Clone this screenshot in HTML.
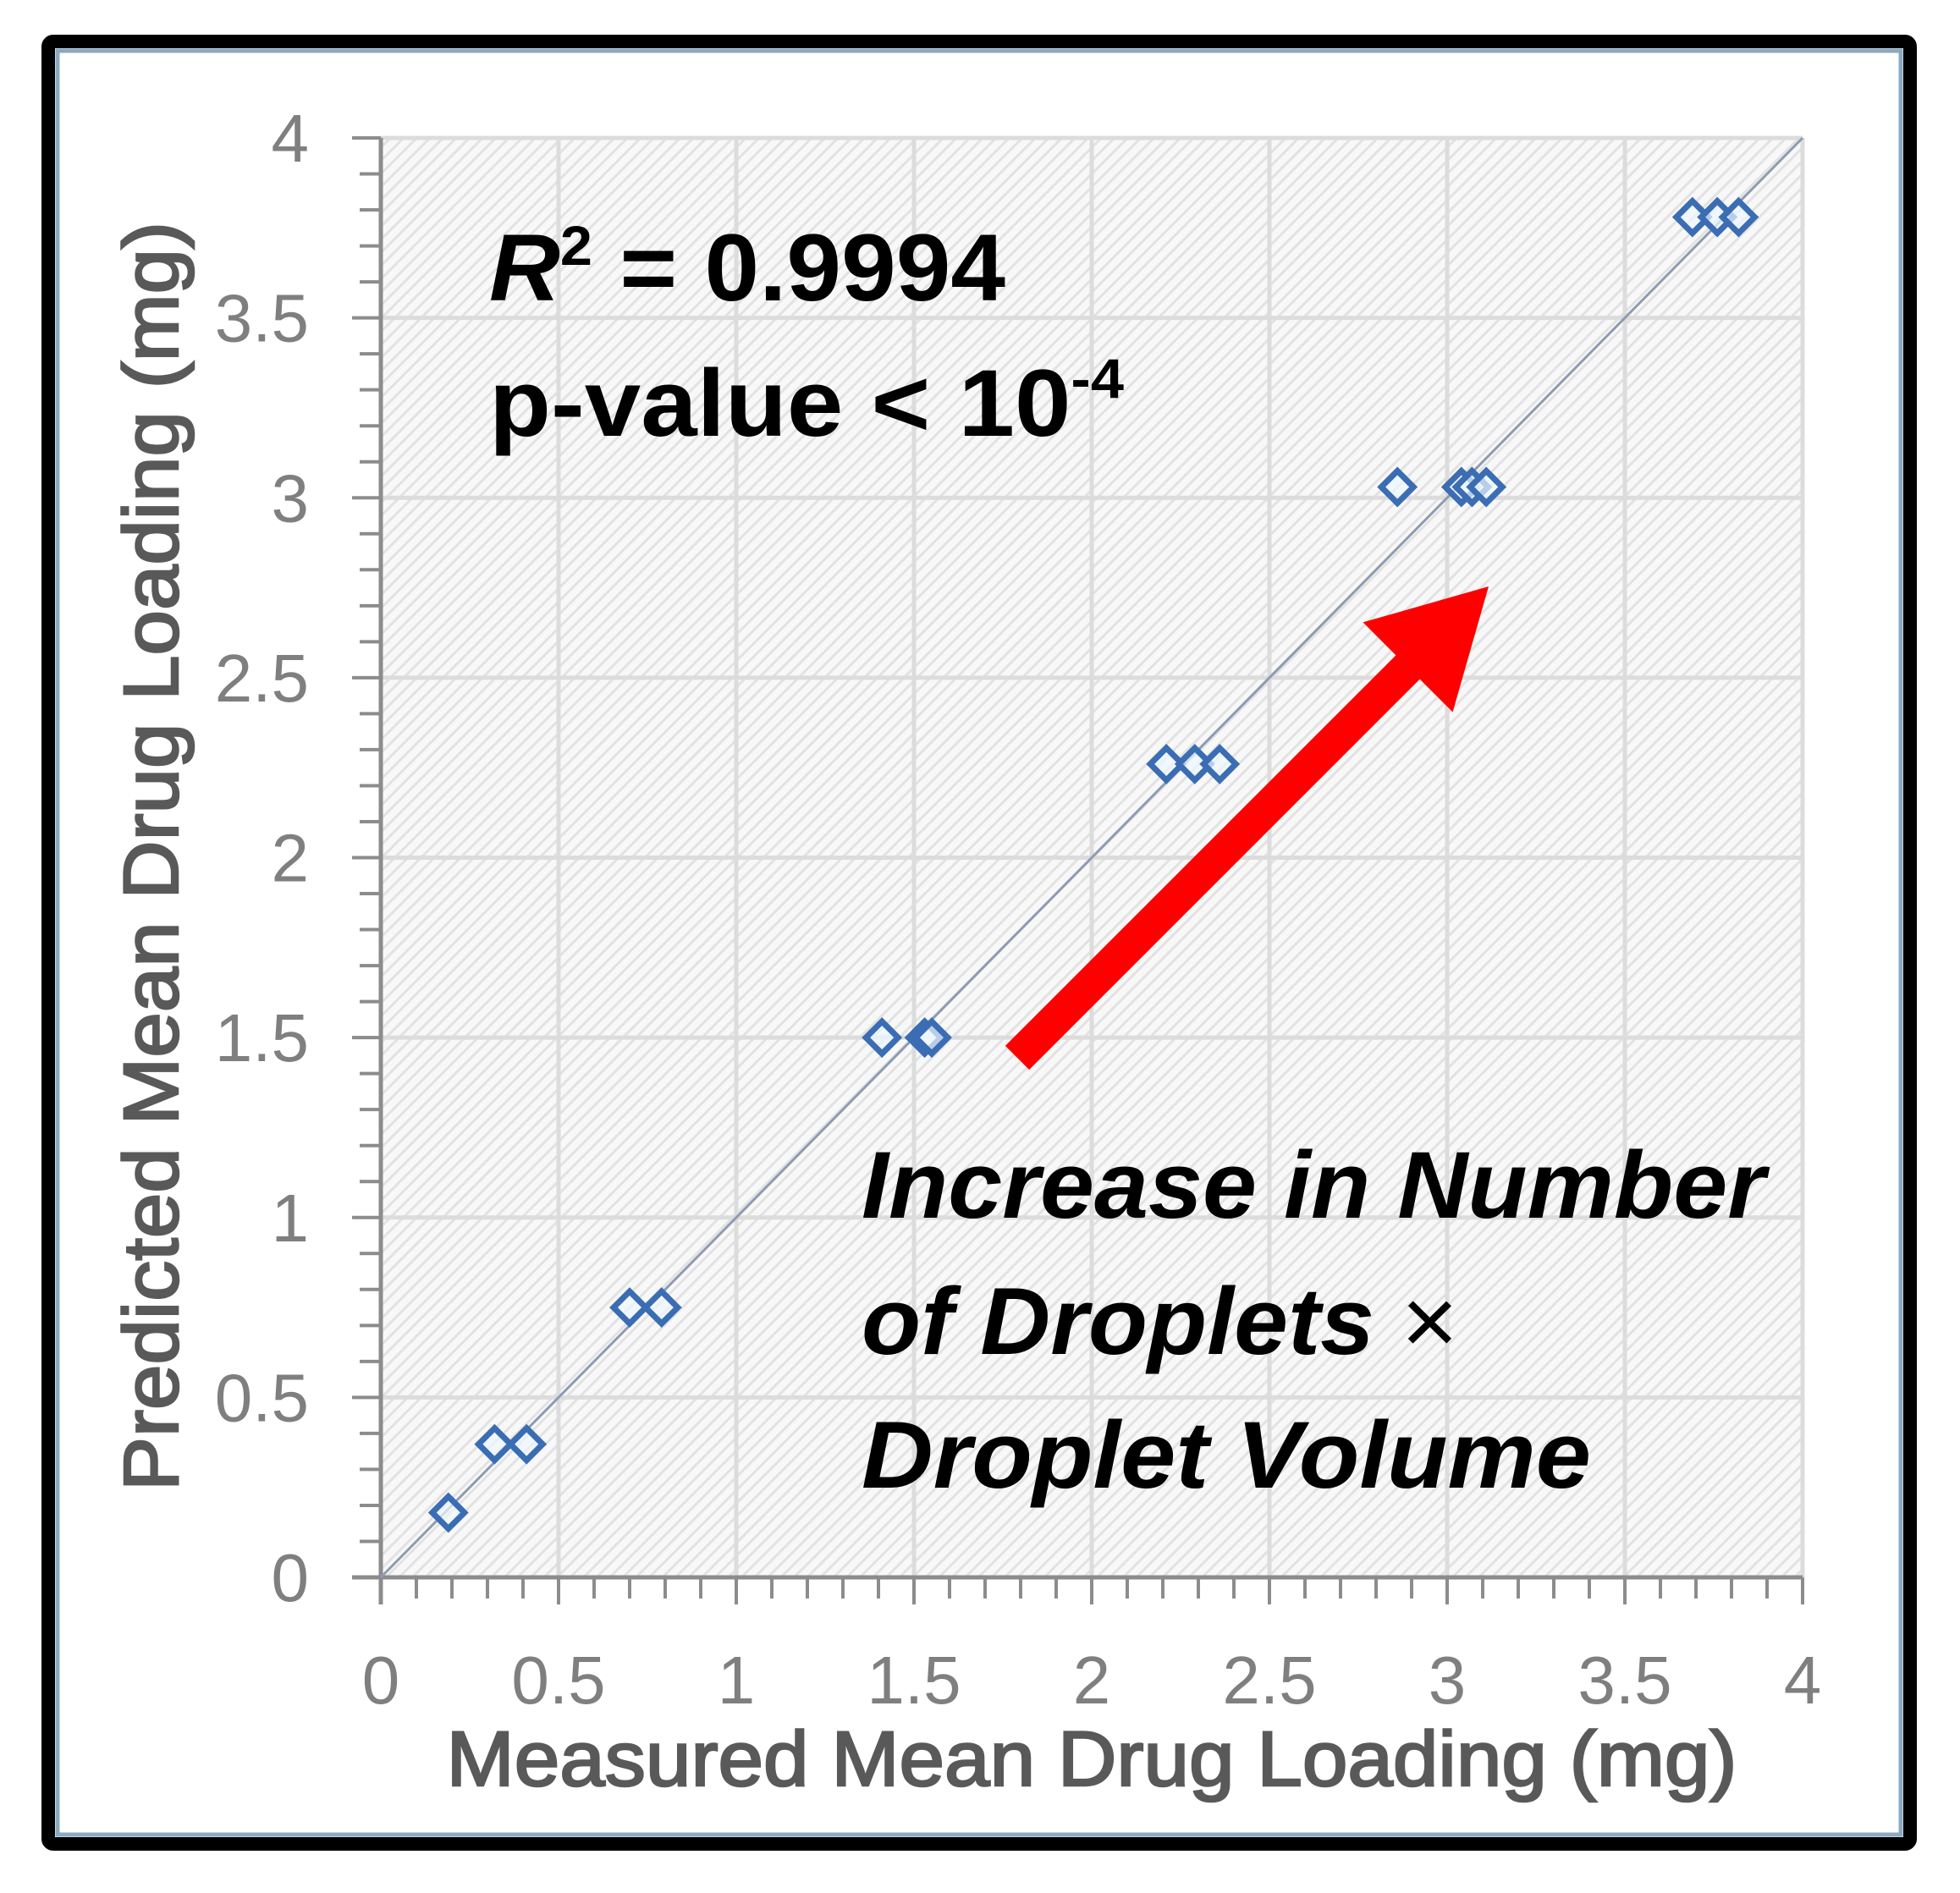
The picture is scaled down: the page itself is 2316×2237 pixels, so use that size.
<!DOCTYPE html>
<html><head><meta charset="utf-8">
<style>
html,body{margin:0;padding:0;background:#fff;}
svg{display:block;}
</style></head>
<body>
<svg id="chart" width="2316" height="2237" viewBox="0 0 2316 2237" xmlns="http://www.w3.org/2000/svg">
<defs>
<pattern id="hatch" patternUnits="userSpaceOnUse" width="11" height="11" patternTransform="rotate(45)">
<rect width="11" height="11" fill="#f8f8f8"/>
<rect x="0" y="0" width="3" height="11" fill="#e2e2e2"/>
</pattern>
</defs>
<rect x="57" y="49" width="2200" height="2130" fill="#fff" stroke="#000" stroke-width="16" rx="6"/>
<rect x="68" y="60" width="2178" height="2108" fill="#fff" stroke="#8aa9c2" stroke-width="5"/>
<g id="plot"></g>
<text x="578" y="355" font-family="Liberation Sans, sans-serif" font-weight="bold" font-size="112" fill="#000" textLength="610" lengthAdjust="spacingAndGlyphs"><tspan font-style="italic">R</tspan><tspan font-size="66" dy="-42">2</tspan><tspan dy="42"> = 0.9994</tspan></text>
<text x="578" y="515" font-family="Liberation Sans, sans-serif" font-weight="bold" font-size="112" fill="#000" textLength="750" lengthAdjust="spacingAndGlyphs">p-value &lt; 10<tspan font-size="66" dy="-45">-4</tspan></text>
<g font-family="Liberation Sans, sans-serif" font-weight="bold" font-style="italic" font-size="112" fill="#000">
<text x="1018" y="1439" textLength="1068" lengthAdjust="spacingAndGlyphs">Increase in Number</text>
<text x="1018" y="1600" textLength="705" lengthAdjust="spacingAndGlyphs">of Droplets <tspan font-weight="normal" font-style="normal">×</tspan></text>
<text x="1018" y="1758" textLength="862" lengthAdjust="spacingAndGlyphs">Droplet Volume</text>
</g>
</svg>
<script>
const xTicks = [0, 0.5, 1, 1.5, 2, 2.5, 3, 3.5, 4];
const yTicks = [0, 0.5, 1, 1.5, 2, 2.5, 3, 3.5, 4];
const tickLabels = ["0", "0.5", "1", "1.5", "2", "2.5", "3", "3.5", "4"];
const measured = [0.19, 0.32, 0.41, 0.70, 0.79, 1.41, 1.53, 1.55, 2.21, 2.29, 2.36, 2.86, 3.04, 3.07, 3.11, 3.69, 3.76, 3.82];
const predicted = [0.18, 0.37, 0.37, 0.75, 0.75, 1.50, 1.50, 1.50, 2.26, 2.26, 2.26, 3.03, 3.03, 3.03, 3.03, 3.78, 3.78, 3.78];
const fitLine = [0, 4];

const NS = "http://www.w3.org/2000/svg";
const X0 = 450, X1 = 2130, Y0 = 1864, Y1 = 163;
function sx(v){ return X0 + (v / 4) * (X1 - X0); }
function sy(v){ return Y0 - (v / 4) * (Y0 - Y1); }
const g = document.getElementById('plot');
function mk(tag, attrs){ const e = document.createElementNS(NS, tag); for (const k in attrs) e.setAttribute(k, attrs[k]); g.appendChild(e); return e; }

const bg = mk('rect', {x: X0, y: Y1, width: X1 - X0, height: Y0 - Y1, fill: 'url(#hatch)'});



xTicks.forEach((t) => {
  if (t === 0) return;
  const l = mk('line', {x1: sx(t), x2: sx(t), y1: Y0, y2: Y1, stroke: '#dcdcdc', 'stroke-width': 5});
  
  
});
yTicks.forEach((t) => {
  if (t === 0) return;
  const l = mk('line', {x1: X0, x2: X1, y1: sy(t), y2: sy(t), stroke: '#dcdcdc', 'stroke-width': 5});
  
  
});

for (let i = 1; i <= 40; i++) {
  const v = i / 10;
  const major = i % 5 === 0;
  const tx = mk('line', {x1: sx(v), x2: sx(v), y1: Y0, y2: Y0 + (major ? 32 : 25), stroke: '#8c8c8c', 'stroke-width': 4});
  
  
  const ty = mk('line', {x1: X0, x2: X0 - (major ? 34 : 25), y1: sy(v), y2: sy(v), stroke: '#8c8c8c', 'stroke-width': 4});
  
  
}
const xa = mk('line', {x1: X0 - 34, x2: X1, y1: Y0, y2: Y0, stroke: '#8c8c8c', 'stroke-width': 5});


const ya = mk('line', {x1: X0, x2: X0, y1: Y0 + 32, y2: Y1, stroke: '#8c8c8c', 'stroke-width': 5});



xTicks.forEach((t, i) => {
  const tx = mk('text', {x: sx(t), y: 2013, 'text-anchor': 'middle', 'font-family': 'Liberation Sans Narrow, Liberation Sans, sans-serif', 'font-size': 80, fill: '#7f7f7f'});
  tx.textContent = tickLabels[i];
  
  
});
yTicks.forEach((t, i) => {
  const tx = mk('text', {x: 365, y: sy(t) + 28, 'text-anchor': 'end', 'font-family': 'Liberation Sans Narrow, Liberation Sans, sans-serif', 'font-size': 80, fill: '#7f7f7f'});
  tx.textContent = tickLabels[i];
  
  
});

const fl = mk('line', {x1: sx(fitLine[0]), y1: sy(fitLine[0]), x2: sx(fitLine[1]), y2: sy(fitLine[1]), stroke: '#8e9bb3', 'stroke-width': 3});



measured.forEach((m, i) => {
  const cx = sx(m), cy = sy(predicted[i]), r = 19;
  const p = mk('polygon', {points: `${cx},${cy - r} ${cx + r},${cy} ${cx},${cy + r} ${cx - r},${cy}`, fill: '#eef8ff', 'fill-opacity': 0.7, stroke: '#3a6db3', 'stroke-width': 7});
  
  
});

const ax1 = 1202, ay1 = 1250, ax2 = 1759, ay2 = 693;
const ang = Math.atan2(ay2 - ay1, ax2 - ax1);
const hl = 135, hw = 75, sw = 20;
const bx = ax2 - hl * Math.cos(ang), by = ay2 - hl * Math.sin(ang);
const nx = -Math.sin(ang), ny = Math.cos(ang);
const pts = [
  [ax1 + nx * sw, ay1 + ny * sw], [bx + nx * sw, by + ny * sw], [bx + nx * hw, by + ny * hw],
  [ax2, ay2], [bx - nx * hw, by - ny * hw], [bx - nx * sw, by - ny * sw], [ax1 - nx * sw, ay1 - ny * sw]
].map(p => p.join(',')).join(' ');
const arrow = mk('polygon', {points: pts, fill: '#ff0000'});



const xt = mk('text', {x: 1290, y: 2110, 'text-anchor': 'middle', 'font-family': 'Liberation Sans Narrow, Liberation Sans, sans-serif', 'font-size': 92, fill: '#595959', stroke: '#595959', 'stroke-width': 2.5, textLength: 1525, lengthAdjust: 'spacingAndGlyphs'});
xt.textContent = 'Measured Mean Drug Loading (mg)';


const yt = mk('text', {x: 0, y: 0, 'text-anchor': 'middle', 'font-family': 'Liberation Sans Narrow, Liberation Sans, sans-serif', 'font-size': 92, fill: '#595959', stroke: '#595959', 'stroke-width': 2.5, textLength: 1500, lengthAdjust: 'spacingAndGlyphs', transform: 'translate(210,1012) rotate(-90)'});
yt.textContent = 'Predicted Mean Drug Loading (mg)';


</script>
</body></html>
